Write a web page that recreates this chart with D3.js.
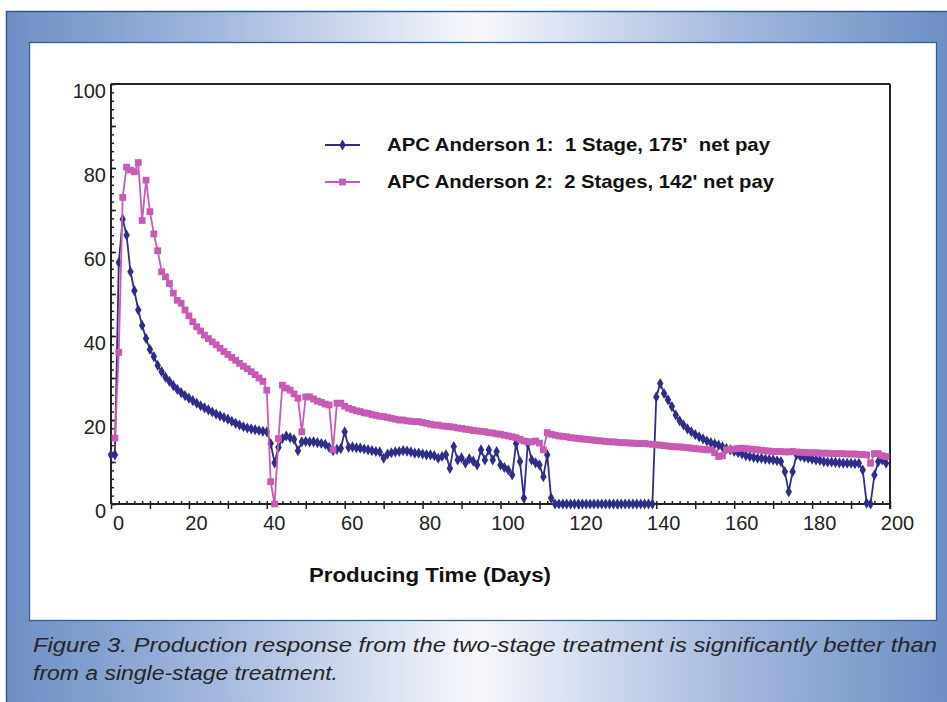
<!DOCTYPE html>
<html>
<head>
<meta charset="utf-8">
<script src="https://cdn.jsdelivr.net/npm/d3@7"></script>
<style>
  html, body { margin: 0; padding: 0; background: #ffffff; }
  svg { display: block; }
  text { font-family: "Liberation Sans", Arial, Helvetica, sans-serif; }
</style>
</head>
<body>
<div id="chart"></div>
<script>
// ---------------- DATA ----------------
const xTickLabels = [0, 20, 40, 60, 80, 100, 120, 140, 160, 180, 200];
const yTickLabels = [0, 20, 40, 60, 80, 100];

const seriesNames = [
  "APC Anderson 1:  1 Stage, 175'  net pay",
  "APC Anderson 2:  2 Stages, 142' net pay"
];

// Series 1 (navy, diamonds): production vs producing time (days)
const days1 = [
  0,1,2,3,4,5,6,7,8,9,10,11,12,13,14,15,16,17,18,19,20,21,22,23,24,25,26,27,28,29,
  30,31,32,33,34,35,36,37,38,39,40,41,42,43,44,45,46,47,48,49,50,51,52,53,54,55,56,57,58,59,
  60,61,62,63,64,65,66,67,68,69,70,71,72,73,74,75,76,77,78,79,80,81,82,83,84,85,86,87,88,89,
  90,91,92,93,94,95,96,97,98,99,100,101,102,103,104,105,106,107,108,109,110,111,112,113,114,115,116,117,118,119,
  120,121,122,123,124,125,126,127,128,129,130,131,132,133,134,135,136,137,138,139,140,141,142,143,144,145,146,147,148,149,
  150,151,152,153,154,155,156,157,158,159,160,161,162,163,164,165,166,167,168,169,170,171,172,173,174,175,176,177,178,179,
  180,181,182,183,184,185,186,187,188,189,190,191,192,193,194,195,196,197,198,199
];
const values1 = [
  11.7,11.7,57.5,67.8,64.0,55.3,50.8,46.2,42.5,39.4,36.8,35.1,33.0,31.5,30.2,29.2,28.2,27.3,26.5,25.8,
  25.2,24.6,24.0,23.4,22.9,22.4,21.9,21.4,21.0,20.6,
  20.2,19.7,19.2,18.8,18.4,18.1,17.9,17.7,17.5,17.3,17.2,14.4,9.8,13.5,15.6,16.2,15.8,15.4,12.7,14.8,
  14.9,14.8,14.8,14.6,14.4,14.2,13.5,12.7,13.0,13.2,
  17.2,13.5,13.6,13.4,13.3,13.1,12.9,12.7,12.5,12.4,10.9,11.9,12.2,12.4,12.5,12.7,12.6,12.4,12.1,12.1,
  11.9,11.7,11.7,11.5,10.9,11.3,11.7,8.5,13.7,10.5,
  11.0,9.7,10.8,10.2,9.3,12.9,10.5,12.9,10.5,12.5,9.3,8.7,8.1,6.9,14.4,10.1,1.4,14.4,10.5,9.8,
  9.3,6.5,11.7,1.4,0,0,0,0,0,0,
  0,0,0,0,0,0,0,0,0,0,0,0,0,0,0,0,0,0,0,0,25.5,28.7,26.3,24.8,23.2,21.2,19.8,18.8,17.9,17.2,
  16.5,16.0,15.5,15.0,14.6,14.3,14.0,13.6,13.2,12.9,12.5,12.2,11.9,11.5,11.3,11.1,10.9,10.9,10.7,10.6,
  10.5,10.3,10.1,7.7,2.9,7.7,11.7,11.3,11.1,10.9,
  10.7,10.5,10.4,10.1,10.0,10.0,9.9,9.8,9.7,9.7,9.7,9.6,9.7,8.1,0.2,0,6.9,10.1,10.5,9.7
];

// Series 2 (magenta, squares)
const days2 = [
  1,2,3,4,5,6,7,8,9,10,11,12,13,14,15,16,17,18,19,20,21,22,23,24,25,26,27,28,29,
  30,31,32,33,34,35,36,37,38,39,40,41,42,43,44,45,46,47,48,49,50,51,52,53,54,55,56,57,58,59,
  60,61,62,63,64,65,66,67,68,69,70,71,72,73,74,75,76,77,78,79,80,81,82,83,84,85,86,87,88,89,
  90,91,92,93,94,95,96,97,98,99,100,101,102,103,104,105,106,107,108,109,110,111,112,113,114,115,116,117,118,119,
  120,121,122,123,124,125,126,127,128,129,130,131,132,133,134,135,136,137,138,139,140,141,142,143,144,145,146,147,148,149,
  150,151,152,153,154,155,156,157,158,159,160,161,162,163,164,165,166,167,168,169,170,171,172,173,174,175,176,177,178,179,
  180,181,182,183,184,185,186,187,188,189,190,191,192,193,194,195,196,197,198,199
];
const values2 = [
  15.7,36.1,73.0,80.2,79.5,79.1,81.3,67.5,77.1,69.6,64.3,60.3,55.3,54.1,52.5,50.2,48.5,47.8,46.2,
  44.8,43.4,42.2,41.2,40.2,39.4,38.6,37.9,37.1,36.3,
  35.6,34.9,34.2,33.5,32.8,32.2,31.5,30.8,30.0,29.2,27.1,5.3,0,15.6,28.3,27.6,27.1,26.2,25.2,17.2,
  25.5,25.5,25.0,24.5,24.2,23.8,23.6,12.9,24.0,24.0,
  23.3,22.8,22.5,22.2,22.0,21.7,21.6,21.3,21.1,20.9,20.8,20.6,20.4,20.2,20.0,20.0,19.8,19.7,19.6,19.6,
  19.4,19.2,19.0,18.8,18.8,18.6,18.5,18.4,18.3,18.1,
  18.0,17.8,17.7,17.5,17.4,17.3,17.2,17.0,16.9,16.7,16.6,16.4,16.2,16.0,15.8,15.4,15.0,14.8,14.8,15.0,
  14.5,12.9,17.0,16.6,16.4,16.2,16.1,16.0,15.8,15.7,
  15.6,15.5,15.4,15.3,15.2,15.1,15.0,14.9,14.8,14.8,14.7,14.6,14.6,14.5,14.5,14.4,14.4,14.4,14.3,14.2,
  14.1,14.0,13.9,13.8,13.7,13.6,13.6,13.5,13.4,13.3,
  13.2,13.1,13.0,12.9,12.9,12.2,11.3,11.5,12.9,13.0,13.1,13.2,13.3,13.2,13.1,13.0,12.9,12.8,12.7,12.6,
  12.5,12.5,12.5,12.4,12.4,12.5,12.4,12.3,12.3,12.2,
  12.2,12.2,12.1,12.1,12.1,12.0,12.0,12.0,12.0,11.9,11.9,11.9,11.8,11.8,11.7,9.7,12.0,12.0,11.5,11.3
];

const captionLines = [
  "Figure 3. Production response from the two-stage treatment is significantly better than",
  "from a single-stage treatment."
];
const xAxisTitle = "Producing Time (Days)";

// ---------------- DRAW ----------------
const W = 947, H = 702;
const svg = d3.select("#chart").append("svg").attr("width", W).attr("height", H);

const defs = svg.append("defs");
const grad = defs.append("linearGradient").attr("id", "panelGrad")
  .attr("x1", "0%").attr("x2", "100%").attr("y1", "0%").attr("y2", "0%");
grad.append("stop").attr("offset", "0%").attr("stop-color", "#6d8ec4");
grad.append("stop").attr("offset", "22%").attr("stop-color", "#a3b7dc");
grad.append("stop").attr("offset", "50%").attr("stop-color", "#f7f8fc");
grad.append("stop").attr("offset", "78%").attr("stop-color", "#a3b7dc");
grad.append("stop").attr("offset", "100%").attr("stop-color", "#6d8ec4");

// outer panel
svg.append("rect").attr("x", 6).attr("y", 11).attr("width", W - 6).attr("height", H - 11)
  .attr("fill", "url(#panelGrad)");
svg.append("line").attr("x1", 6).attr("x2", W).attr("y1", 11.5).attr("y2", 11.5)
  .attr("stroke", "#2b5b9c").attr("stroke-width", 1.5);
svg.append("line").attr("x1", 6.5).attr("x2", 6.5).attr("y1", 11).attr("y2", H)
  .attr("stroke", "#2b5b9c").attr("stroke-width", 1.5);

// inner white box
svg.append("rect").attr("x", 29.5).attr("y", 42.5).attr("width", 907).attr("height", 578)
  .attr("fill", "#ffffff").attr("stroke", "#2d5f9f").attr("stroke-width", 1.3);

// scales
const x = d3.scaleLinear().domain([0, 200]).range([111, 890]);
const y = d3.scaleLinear().domain([0, 100]).range([504, 84]);

const axisColor = "#222";
const g = svg.append("g");

// frame top and right
g.append("line").attr("x1", x(0)).attr("x2", x(200)).attr("y1", y(100)).attr("y2", y(100))
  .attr("stroke", axisColor).attr("stroke-width", 2);
g.append("line").attr("x1", x(200)).attr("x2", x(200)).attr("y1", y(100)).attr("y2", y(0) + 5)
  .attr("stroke", axisColor).attr("stroke-width", 2);

function styleAxis(sel) {
  sel.selectAll(".domain").remove();
  sel.selectAll(".tick line").attr("stroke", axisColor).attr("stroke-width", 1.5);
}

// x minor ticks (upward)
g.append("g").attr("transform", `translate(0,${y(0)})`)
  .call(d3.axisBottom(x).tickValues(d3.range(0, 201, 2)).tickSize(-3).tickFormat(""))
  .call(styleAxis);
// x major ticks (downward)
g.append("g").attr("transform", `translate(0,${y(0)})`)
  .call(d3.axisBottom(x).tickValues(d3.range(0, 201, 10)).tickSize(5).tickFormat(""))
  .call(styleAxis);
// x labels
const xLab = g.append("g").attr("transform", `translate(0,${y(0)})`)
  .call(d3.axisBottom(x).tickValues(xTickLabels).tickSize(0).tickPadding(12).tickFormat(d3.format("d")));
xLab.selectAll(".domain").remove();
xLab.selectAll("text").attr("font-size", 20).attr("fill", "#222")
  .attr("font-family", "'Liberation Sans', Arial, sans-serif").attr("dx", 7);

// y minor ticks (inward)
g.append("g").attr("transform", `translate(${x(0)},0)`)
  .call(d3.axisLeft(y).tickValues(d3.range(0, 101, 2)).tickSize(-3).tickFormat(""))
  .call(styleAxis);
g.append("g").attr("transform", `translate(${x(0)},0)`)
  .call(d3.axisLeft(y).tickValues(d3.range(0, 101, 10)).tickSize(-5).tickFormat(""))
  .call(styleAxis);
const yLab = g.append("g").attr("transform", `translate(${x(0)},0)`)
  .call(d3.axisLeft(y).tickValues(yTickLabels).tickSize(0).tickPadding(5).tickFormat(d3.format("d")));
yLab.selectAll(".domain").remove();
yLab.selectAll("text").attr("font-size", 20).attr("fill", "#222")
  .attr("font-family", "'Liberation Sans', Arial, sans-serif").attr("dy", "0.65em");

// axis lines
g.append("line").attr("x1", x(0)).attr("x2", x(0)).attr("y1", y(100)).attr("y2", y(0))
  .attr("stroke", axisColor).attr("stroke-width", 2);
g.append("line").attr("x1", x(0)).attr("x2", x(200)).attr("y1", y(0)).attr("y2", y(0))
  .attr("stroke", axisColor).attr("stroke-width", 2);

// axis title
svg.append("text").attr("x", 430).attr("y", 582).attr("text-anchor", "middle")
  .attr("font-size", 20).attr("font-weight", "bold").attr("fill", "#111")
  .attr("textLength", 242).attr("lengthAdjust", "spacingAndGlyphs")
  .text(xAxisTitle);

// series
const colors = ["#2e2e8a", "#c95ab3"];
const data1 = days1.map((d, i) => ({ d, v: values1[i] }));
const data2 = days2.map((d, i) => ({ d, v: values2[i] }));
const line = d3.line().x(p => x(p.d)).y(p => y(p.v));

const diamond = d3.symbol().type(d3.symbolDiamond).size(36);
const square = d3.symbol().type(d3.symbolSquare).size(46);

function drawSeries(data, color, sym) {
  const s = svg.append("g");
  s.append("path").datum(data).attr("d", line).attr("fill", "none")
    .attr("stroke", color).attr("stroke-width", 1.8).attr("stroke-linejoin", "round");
  s.selectAll("path.m").data(data).enter().append("path").attr("class", "m")
    .attr("transform", p => `translate(${x(p.d)},${y(p.v)})`)
    .attr("d", sym).attr("fill", color);
}
drawSeries(data1, colors[0], diamond);
drawSeries(data2, colors[1], square);

// legend
const legendY = [145, 182];
const legendBaseline = [151, 188];
const legendSyms = [diamond, square];
const legendWidths = [383, 387];
seriesNames.forEach((name, i) => {
  const lg = svg.append("g");
  lg.append("line").attr("x1", 325).attr("x2", 360).attr("y1", legendY[i]).attr("y2", legendY[i])
    .attr("stroke", colors[i]).attr("stroke-width", 1.8);
  lg.append("path").attr("transform", `translate(342.5,${legendY[i]})`)
    .attr("d", legendSyms[i]).attr("fill", colors[i]);
  lg.append("text").attr("x", 387).attr("y", legendBaseline[i])
    .attr("font-size", 19).attr("font-weight", "bold").attr("fill", "#111")
    .style("white-space", "pre")
    .attr("textLength", legendWidths[i]).attr("lengthAdjust", "spacingAndGlyphs")
    .text(name);
});

// caption
const capWidths = [904, 305];
captionLines.forEach((t, i) => {
  svg.append("text").attr("x", 33).attr("y", 652 + i * 28)
    .attr("font-size", 20).attr("font-style", "italic").attr("fill", "#262626")
    .attr("textLength", capWidths[i]).attr("lengthAdjust", "spacingAndGlyphs")
    .text(t);
});
</script>
</body>
</html>
